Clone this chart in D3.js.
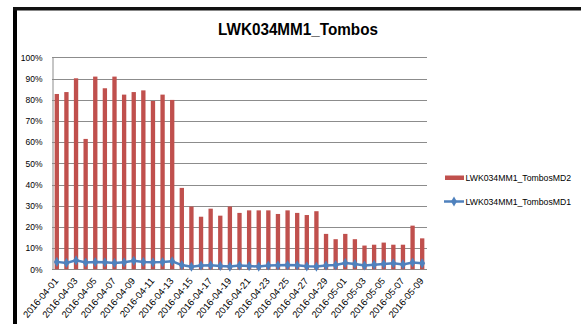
<!DOCTYPE html>
<html>
<head>
<meta charset="utf-8">
<script src="https://cdn.jsdelivr.net/npm/d3@7/dist/d3.min.js"></script>
<style>
  html, body { margin: 0; padding: 0; background: #fff; }
  svg { display: block; font-family: "Liberation Sans", Arial, sans-serif; }
</style>
</head>
<body>
<div id="chart"></div>
<script>
const title = "LWK034MM1_Tombos";
const categories = [
  "2016-04-01","2016-04-02","2016-04-03","2016-04-04","2016-04-05","2016-04-06","2016-04-07",
  "2016-04-08","2016-04-09","2016-04-10","2016-04-11","2016-04-12","2016-04-13","2016-04-14",
  "2016-04-15","2016-04-16","2016-04-17","2016-04-18","2016-04-19","2016-04-20","2016-04-21",
  "2016-04-22","2016-04-23","2016-04-24","2016-04-25","2016-04-26","2016-04-27","2016-04-28",
  "2016-04-29","2016-04-30","2016-05-01","2016-05-02","2016-05-03","2016-05-04","2016-05-05",
  "2016-05-06","2016-05-07","2016-05-08","2016-05-09"
];
const seriesMD2Name = "LWK034MM1_TombosMD2";
const seriesMD2 = [
  82.7, 83.6, 90.1, 61.5, 90.9, 85.4, 90.9, 82.4, 83.6, 84.4, 79.4, 82.4, 79.9,
  38.4, 29.6, 24.8, 28.6, 25.3, 29.6, 26.6, 27.8, 27.8, 27.8, 26.1, 27.8, 26.6, 25.6,
  27.4, 16.7, 14.2, 16.7, 14.2, 11.2, 11.6, 12.6, 11.6, 11.6, 20.6, 14.6
];
const seriesMD1Name = "LWK034MM1_TombosMD1";
const seriesMD1 = [
  3.5, 3.0, 4.2, 3.2, 3.4, 3.3, 3.0, 3.3, 4.0, 3.5, 3.3, 3.4, 3.8,
  2.0, 1.2, 1.8, 1.9, 1.6, 1.3, 1.8, 1.5, 1.3, 1.8, 1.9, 2.0, 1.9, 1.4,
  1.3, 1.8, 2.0, 3.0, 2.5, 1.8, 2.2, 2.5, 2.8, 2.3, 3.2, 2.8
];
const yTicks = [0, 10, 20, 30, 40, 50, 60, 70, 80, 90, 100];
const xTickLabels = categories.filter((d, i) => i % 2 === 0);

const W = 581, H = 324;
const plot = { left: 52, right: 427, top: 57.3, bottom: 269.3 };
const red = "#C0504D", blue = "#4F81BD";

const svg = d3.select("#chart").append("svg").attr("width", W).attr("height", H);

// frame
svg.append("rect").attr("x", 13).attr("y", 7).attr("width", 4).attr("height", H - 7).attr("fill", "#000");
svg.append("rect").attr("x", 13).attr("y", 7).attr("width", W - 13).attr("height", 3.5).attr("fill", "#111");

// title
svg.append("text").attr("x", 298).attr("y", 35)
  .attr("text-anchor", "middle").attr("font-weight", "bold").attr("font-size", 17)
  .attr("textLength", 160).attr("lengthAdjust", "spacingAndGlyphs")
  .attr("fill", "#000").text(title);

const x = d3.scaleBand().domain(categories).range([plot.left, plot.right])
  .paddingInner(0.55).paddingOuter(0.275);
const y = d3.scaleLinear().domain([0, 100]).range([plot.bottom, plot.top]);

// gridlines
svg.append("g").selectAll("line").data(yTicks).join("line")
  .attr("x1", plot.left).attr("x2", plot.right)
  .attr("y1", d => Math.round(y(d)) + 0.5).attr("y2", d => Math.round(y(d)) + 0.5)
  .attr("stroke", "#8c8c8c").attr("stroke-width", 1);

// y axis
const yAxis = svg.append("g").attr("transform", `translate(${plot.left + 0.5},0)`)
  .call(d3.axisLeft(y).tickValues(yTicks).tickSize(0).tickPadding(10).tickFormat(d => d + "%"));
yAxis.select(".domain").attr("stroke", "#8c8c8c");
yAxis.selectAll("text").attr("font-size", 8.5).attr("fill", "#000")
  .attr("font-family", "'Liberation Sans', Arial, sans-serif");

// bars
svg.append("g").selectAll("rect").data(seriesMD2).join("rect")
  .attr("x", (d, i) => x(categories[i]))
  .attr("width", x.bandwidth())
  .attr("y", d => y(d))
  .attr("height", d => y(0) - y(d))
  .attr("fill", red);

// line
const cx = (i) => x(categories[i]) + x.bandwidth() / 2;
svg.append("path").datum(seriesMD1)
  .attr("d", d3.line().x((d, i) => cx(i)).y(d => y(d)))
  .attr("fill", "none").attr("stroke", blue).attr("stroke-width", 2.5);
const diamond = d3.symbol().type(d3.symbolDiamond).size(30);
svg.append("g").selectAll("path").data(seriesMD1).join("path")
  .attr("transform", (d, i) => `translate(${cx(i)},${y(d)})`)
  .attr("d", diamond).attr("fill", blue);

// x labels
const xAxis = svg.append("g").attr("transform", `translate(0,${plot.bottom})`)
  .call(d3.axisBottom(x).tickValues(xTickLabels).tickSize(0).tickPadding(0));
xAxis.select(".domain").remove();
xAxis.selectAll("text")
  .attr("font-size", 9.5).attr("fill", "#000")
  .attr("font-family", "'Liberation Sans', Arial, sans-serif")
  .attr("text-anchor", "end")
  .attr("y", 0)
  .attr("dy", 0)
  .attr("transform", "translate(2,12) rotate(-50)");

// legend
const lg = svg.append("g");
lg.append("rect").attr("x", 445).attr("y", 175.5).attr("width", 19).attr("height", 4.5).attr("fill", red);
lg.append("text").attr("x", 465.5).attr("y", 181).attr("font-size", 8.7).attr("fill", "#000").text(seriesMD2Name);
lg.append("line").attr("x1", 444).attr("x2", 464).attr("y1", 201.5).attr("y2", 201.5)
  .attr("stroke", blue).attr("stroke-width", 2.5);
lg.append("path").attr("transform", "translate(454,201.5)").attr("d", diamond).attr("fill", blue);
lg.append("text").attr("x", 465.5).attr("y", 205).attr("font-size", 8.7).attr("fill", "#000").text(seriesMD1Name);
</script>
</body>
</html>
